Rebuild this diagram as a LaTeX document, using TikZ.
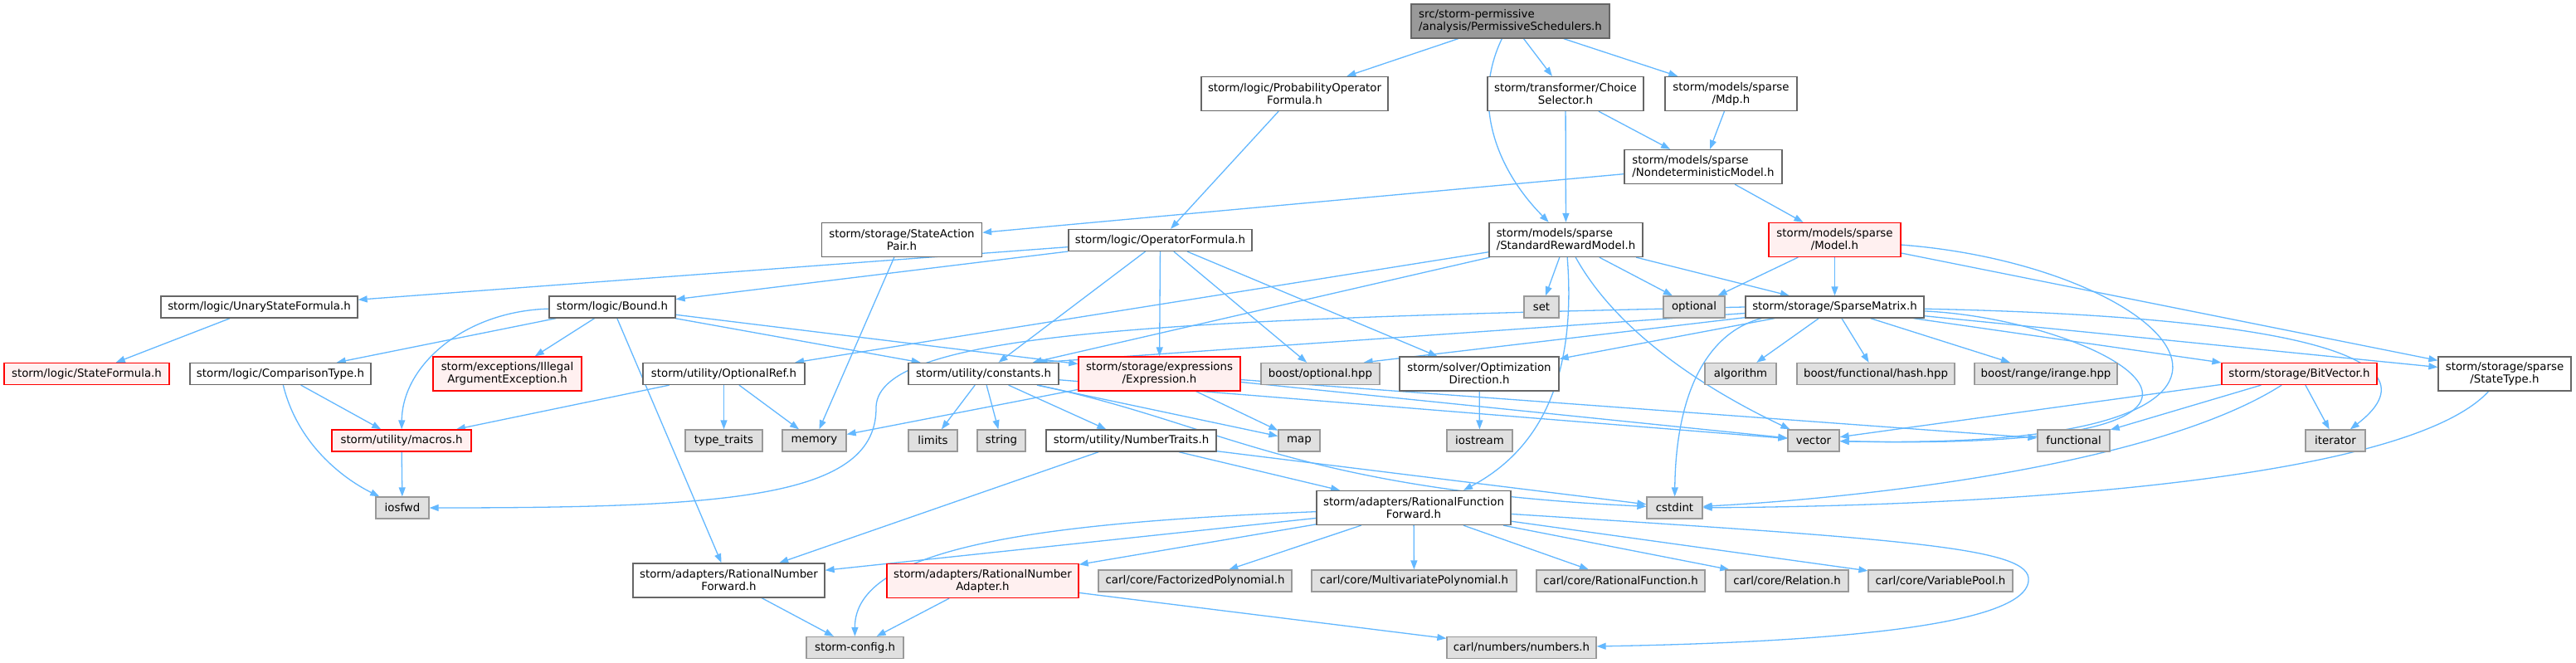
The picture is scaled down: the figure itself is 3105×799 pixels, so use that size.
\documentclass[tikz,border=0pt]{standalone}
\usepackage{fontspec}
\setmainfont{DejaVu Sans}
\usetikzlibrary{arrows.meta}

\definecolor{edgeblue}{HTML}{63B8FF}
\definecolor{nodeline}{HTML}{666666}
\definecolor{sysfill}{HTML}{E0E0E0}
\definecolor{sysline}{HTML}{999999}
\definecolor{rootfill}{HTML}{999999}
\definecolor{pinkfill}{HTML}{FFF0F0}

\pgfdeclarelayer{paper}
\pgfdeclarelayer{wires}
\pgfsetlayers{paper,wires,main}

\begin{document}
\begin{tikzpicture}[x=1pt, y=-1pt,
    hdr/.style={draw=nodeline, fill=white, line width=1.3pt, inner sep=2pt,
      minimum height=26pt, font=\fontsize{13.33}{15}\selectfont, align=center},
    two/.style={minimum height=41pt},
    syshdr/.style={hdr, draw=sysline, fill=sysfill},
    partial/.style={hdr, draw=red, fill=pinkfill},
    rootfile/.style={hdr, fill=rootfill, align=left},
    dep/.style={draw=edgeblue, line width=1.3pt, -{Triangle[length=11pt,width=8pt]}}]

  \begin{pgfonlayer}{paper}
    \fill[white] (0,0) rectangle (3105,799);
  \end{pgfonlayer}

  % the file itself
  \node[rootfile, two, minimum width=239] (root) at (1820.5,25.5) {src/storm-permissive\\/analysis/PermissiveSchedulers.h};

  % direct includes
  \node[hdr, two, minimum width=225] (probop) at (1560.5,113) {storm/logic/ProbabilityOperator\\Formula.h};
  \node[hdr, two, minimum width=188] (choice) at (1887,113) {storm/transformer/Choice\\Selector.h};
  \node[hdr, two, minimum width=159] (mdp) at (2086.5,113) {storm/models/sparse\\/Mdp.h};
  \node[hdr, two, minimum width=190, align=left] (nondet) at (2053,201) {storm/models/sparse\\/NondeterministicModel.h};

  % models and formulas
  \node[hdr, two, minimum width=193] (stateaction) at (1087,289) {storm/storage/StateAction\\Pair.h};
  \node[hdr, minimum width=221] (opformula) at (1398.5,289.5) {storm/logic/OperatorFormula.h};
  \node[hdr, two, minimum width=185, align=left] (stdreward) at (1887.5,289) {storm/models/sparse\\/StandardRewardModel.h};
  \node[partial, two, minimum width=159] (model) at (2211.5,289) {storm/models/sparse\\/Model.h};

  \node[hdr, minimum width=237] (unary) at (312.5,370) {storm/logic/UnaryStateFormula.h};
  \node[hdr, minimum width=152] (bound) at (738,370) {storm/logic/Bound.h};
  \node[syshdr, minimum width=42] (set) at (1858,370) {set};
  \node[syshdr, minimum width=74] (optional) at (2042,370) {optional};
  \node[hdr, minimum width=215] (sparse) at (2211.5,370) {storm/storage/SparseMatrix.h};

  % utilities and storage
  \node[partial, minimum width=199] (stateformula) at (104.5,450.5) {storm/logic/StateFormula.h};
  \node[hdr, minimum width=218] (comparison) at (338,450.5) {storm/logic/ComparisonType.h};
  \node[partial, two, minimum width=179] (illegal) at (611.5,450.5) {storm/exceptions/Illegal\\ArgumentException.h};
  \node[hdr, minimum width=195] (optionalref) at (872.5,450.5) {storm/utility/OptionalRef.h};
  \node[hdr, minimum width=181] (constants) at (1185.5,450.5) {storm/utility/constants.h};
  \node[partial, two, minimum width=195] (expression) at (1397.5,450.5) {storm/storage/expressions\\/Expression.h};
  \node[syshdr, minimum width=143] (boostopt) at (1591.5,450.5) {boost/optional.hpp};
  \node[hdr, two, minimum width=192] (optdir) at (1783,450.5) {storm/solver/Optimization\\Direction.h};
  \node[syshdr, minimum width=86] (algorithm) at (2098,450.5) {algorithm};
  \node[syshdr, minimum width=190] (hash) at (2261,450.5) {boost/functional/hash.hpp};
  \node[syshdr, minimum width=172] (irange) at (2466,450.5) {boost/range/irange.hpp};
  \node[partial, minimum width=187] (bitvector) at (2771.5,450.5) {storm/storage/BitVector.h};
  \node[hdr, two, minimum width=160] (statetype) at (3019,450.5) {storm/storage/sparse\\/StateType.h};

  \node[partial, minimum width=168] (macros) at (484,531) {storm/utility/macros.h};
  \node[syshdr, minimum width=93] (typetraits) at (872.5,531) {type\_traits};
  \node[syshdr, minimum width=77] (memory) at (981.5,531) {memory};
  \node[syshdr, minimum width=59] (limits) at (1124.5,531) {limits};
  \node[syshdr, minimum width=58] (string) at (1207,531) {string};
  \node[hdr, minimum width=205] (numbertraits) at (1363.5,531) {storm/utility/NumberTraits.h};
  \node[syshdr, minimum width=50] (map) at (1566,531) {map};
  \node[syshdr, minimum width=79] (iostream) at (1783.5,531) {iostream};
  \node[syshdr, minimum width=62] (vector) at (2186,531) {vector};
  \node[syshdr, minimum width=87] (functional) at (2499.5,531) {functional};
  \node[syshdr, minimum width=72] (iterator) at (2815,531) {iterator};

  \node[syshdr, minimum width=64] (iosfwd) at (485,612) {iosfwd};
  \node[hdr, two, minimum width=234] (rfforward) at (1704,612) {storm/adapters/RationalFunction\\Forward.h};
  \node[syshdr, minimum width=67] (cstdint) at (2018.5,612) {cstdint};

  % number adapters and carl
  \node[hdr, two, minimum width=231] (rnforward) at (878.5,699.5) {storm/adapters/RationalNumber\\Forward.h};
  \node[partial, two, minimum width=231] (rnadapter) at (1184.5,700) {storm/adapters/RationalNumber\\Adapter.h};
  \node[syshdr, minimum width=233] (factorized) at (1440.5,700) {carl/core/FactorizedPolynomial.h};
  \node[syshdr, minimum width=247] (multivariate) at (1704.5,700) {carl/core/MultivariatePolynomial.h};
  \node[syshdr, minimum width=203] (ratfunction) at (1953.5,700) {carl/core/RationalFunction.h};
  \node[syshdr, minimum width=148] (relation) at (2154,700) {carl/core/Relation.h};
  \node[syshdr, minimum width=174] (variablepool) at (2339,700) {carl/core/VariablePool.h};

  \node[syshdr, minimum width=117] (stormconfig) at (1030.5,780.5) {storm-config.h};
  \node[syshdr, minimum width=180] (numbers) at (1834,780.5) {carl/numbers/numbers.h};

  \begin{pgfonlayer}{wires}
  % top of the graph
  \draw[dep] (root) -- (probop);
  \draw[dep] (root) .. controls (1775,120) and (1800,200) .. (stdreward);
  \draw[dep] (root) -- (choice);
  \draw[dep] (root) -- (mdp);
  \draw[dep] (probop) -- (opformula);
  \draw[dep] (choice) -- (stdreward);
  \draw[dep] (choice) -- (nondet);
  \draw[dep] (mdp) -- (nondet);
  \draw[dep] (nondet) -- (stateaction);
  \draw[dep] (nondet) -- (model);
  \draw[dep] (stateaction) -- (memory);

  % formulas
  \draw[dep] (opformula) -- (unary);
  \draw[dep] (opformula) -- (bound);
  \draw[dep] (opformula) -- (constants);
  \draw[dep] (opformula) -- (expression);
  \draw[dep] (opformula) -- (boostopt);
  \draw[dep] (opformula) -- (optdir);
  \draw[dep] (unary) -- (stateformula);
  \draw[dep] (bound) -- (comparison);
  \draw[dep] (bound) -- (illegal);
  \draw[dep] (bound) .. controls (560,375) and (485,440) .. (macros);
  \draw[dep] (bound) -- (constants);
  \draw[dep] (bound) -- (expression);
  \draw[dep] (bound) -- (rnforward);

  % reward model and model
  \draw[dep] (stdreward) -- (optionalref);
  \draw[dep] (stdreward) -- (constants);
  \draw[dep] (stdreward) -- (set);
  \draw[dep] (stdreward) -- (optional);
  \draw[dep] (stdreward) -- (sparse);
  \draw[dep] (stdreward) .. controls (1900,450) and (1860,540) .. ([xshift=60pt]rfforward.north);
  \draw[dep] (stdreward) .. controls (1960,420) and (2100,490) .. (vector);
  \draw[dep] (model) -- (optional);
  \draw[dep] (model) -- (sparse);
  \draw[dep] (model) -- (statetype);
  \draw[dep] (model) .. controls (2620,320) and (2850,545) .. (vector);

  % sparse matrix
  \draw[dep] (sparse) .. controls (2540,385) and (2820,545) .. (vector);
  \draw[dep] (sparse) .. controls (2700,380) and (2960,420) .. (iterator);
  \draw[dep] (sparse) -- (statetype);
  \draw[dep] (sparse) -- (bitvector);
  \draw[dep] (sparse) -- (algorithm);
  \draw[dep] (sparse) -- (hash);
  \draw[dep] (sparse) -- (irange);
  \draw[dep] ([xshift=20pt]sparse.south west) .. controls (2060,400) and (2020,470) .. (cstdint);
  \draw[dep] (sparse) -- ([xshift=-25pt]constants.north east);
  \draw[dep] (sparse) -- ([xshift=-20pt]boostopt.north east);
  \draw[dep] (sparse) -- (optdir);
  \draw[dep] (sparse.west) .. controls (1400,385) and (1060,400) .. (1056,490)
    .. controls (1058,600) and (880,612) .. (iosfwd);

  \draw[dep] (bitvector) -- (vector);
  \draw[dep] (bitvector) -- (functional);
  \draw[dep] (bitvector) .. controls (2600,560) and (2250,600) .. (cstdint);
  \draw[dep] (bitvector) -- (iterator);
  \draw[dep] (statetype) .. controls (2900,580) and (2400,610) .. (cstdint);

  % expressions and constants
  \draw[dep] (expression) -- (memory);
  \draw[dep] (expression) -- (map);
  \draw[dep] (expression) -- (vector);
  \draw[dep] (expression) -- (functional);
  \draw[dep] (constants) -- (limits);
  \draw[dep] (constants) -- (string);
  \draw[dep] (constants) -- (numbertraits);
  \draw[dep] (constants) -- (map);
  \draw[dep] (constants) -- (vector);
  \draw[dep] (constants) .. controls (1470,510) and (1560,590) .. (cstdint);
  \draw[dep] (numbertraits) -- (rnforward);
  \draw[dep] (numbertraits) -- (rfforward);
  \draw[dep] (numbertraits) -- (cstdint);
  \draw[dep] (optdir) -- (iostream);

  % left side
  \draw[dep] (optionalref) -- (macros);
  \draw[dep] (optionalref) -- (typetraits);
  \draw[dep] (optionalref) -- (memory);
  \draw[dep] (comparison) -- (macros);
  \draw[dep] (comparison) .. controls (360,540) and (420,580) .. (iosfwd);
  \draw[dep] (macros) -- (iosfwd);

  % rational functions
  \draw[dep] (rfforward) -- (rnforward);
  \draw[dep] (rfforward) .. controls (1250,630) and (1030,660) .. (stormconfig);
  \draw[dep] (rfforward) -- (rnadapter);
  \draw[dep] (rfforward) -- (factorized);
  \draw[dep] (rfforward) -- (multivariate);
  \draw[dep] (rfforward) -- (ratfunction);
  \draw[dep] (rfforward) -- (relation);
  \draw[dep] (rfforward) -- (variablepool);
  \draw[dep] (rfforward) .. controls (2300,650) and (2450,660) .. (2445,700)
    .. controls (2440,760) and (2150,775) .. (numbers);
  \draw[dep] (rnforward) -- (stormconfig);
  \draw[dep] (rnadapter) -- (stormconfig);
  \draw[dep] (rnadapter) -- (numbers);
  \end{pgfonlayer}
\end{tikzpicture}
\end{document}
